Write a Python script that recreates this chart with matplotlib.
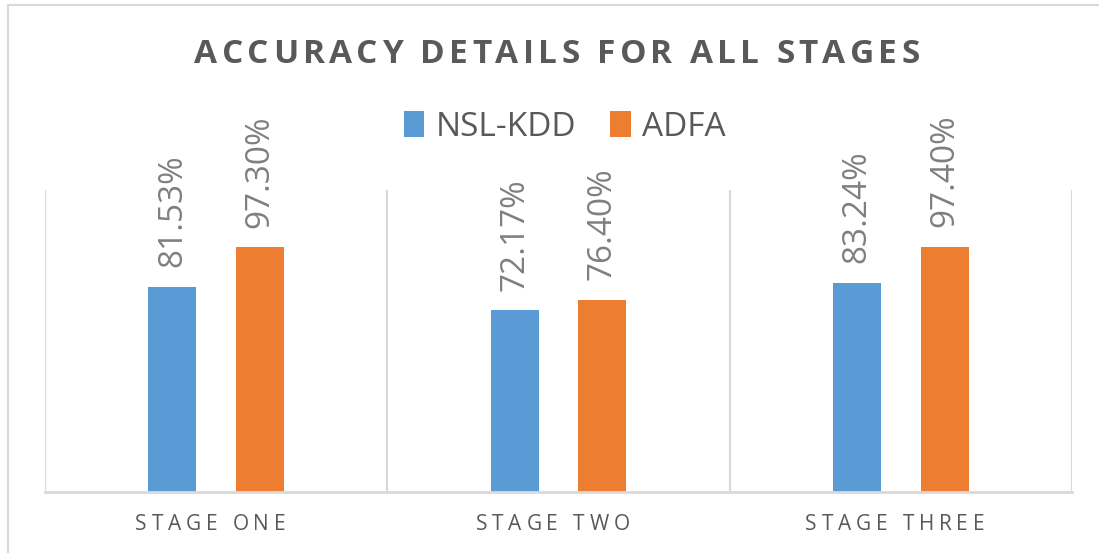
import matplotlib.pyplot as plt
from matplotlib.patches import Rectangle
from matplotlib.transforms import IdentityTransform
from numpy import arange

stages = ["STAGE ONE", "STAGE TWO", "STAGE THREE"]
nsl_kdd = [81.53, 72.17, 83.24]
adfa = [97.30, 76.40, 97.40]
series = {"NSL-KDD": (nsl_kdd, "#5B9BD5"), "ADFA": (adfa, "#ED7D31")}

plt.rcParams['font.family'] = ['Open Sans', 'DejaVu Sans']

fig = plt.figure(figsize=(10.99, 5.53), dpi=100)
ax = fig.add_axes([0.041, 0.1103, 0.9345, 0.546])
renderer = fig.canvas.get_renderer()


def text_width(s, **kw):
    t = fig.text(0, 0, s, transform=IdentityTransform(), **kw)
    w = t.get_window_extent(renderer).width
    t.remove()
    return w


# draw text one char at a time to get letter spacing (pixel coords)
def spaced_text(cx, y, s, gap=None, width=None, **kw):
    space = max(text_width("I I", **kw) - text_width("II", **kw), 0.3 * kw["fontsize"])
    ws = [space if c == " " else text_width(c, **kw) for c in s]
    if width is not None:
        gap = (width - sum(ws)) / (len(s) - 1)
    total = sum(ws) + gap * (len(s) - 1)
    xpos = cx - total / 2
    for c, w in zip(s, ws):
        if c != " ":
            fig.text(xpos, y, c, transform=IdentityTransform(), ha="left",
                     va="baseline", **kw)
        xpos += w + gap


x = arange(len(stages))
width = 0.14
offsets = [-0.128, 0.128]

handles = []
for (name, (vals, color)), off in zip(series.items(), offsets):
    b = ax.bar(x + off, vals, width, color=color, label=name, zorder=2)
    handles.append(b)
    for xi, v in zip(x + off, vals):
        ax.annotate(f"{v:.2f}%", (xi, v), xytext=(0, 14), textcoords="offset points",
                    rotation=90, ha="center", va="bottom", fontsize=24,
                    color="#7f7f7f")

# category separators
ax.vlines(arange(-0.5, len(stages)), 0, 120, color="#d9d9d9", lw=1.5, zorder=1)

ax.set_xlim(-0.5, len(stages) - 0.5)
ax.set_ylim(0, 120)
ax.set_yticks([])
ax.set_xticks([])
for s in ["top", "left", "right"]:
    ax.spines[s].set_visible(False)
ax.spines["bottom"].set_color("#d9d9d9")
ax.spines["bottom"].set_linewidth(2)

# category labels with letter spacing
for xi, name in zip(x, stages):
    px = ax.transData.transform((xi, 0))[0] - 6
    spaced_text(px, 23, name, gap=4.8, fontsize=15, color="#595959")

spaced_text(557, 490, "ACCURACY DETAILS FOR ALL STAGES", width=725,
            fontsize=24, fontweight="bold", color="#595959")

fig.legend(handles=handles, loc="center", bbox_to_anchor=(0.514, 0.77), ncols=2,
           frameon=False, fontsize=24, labelcolor="#595959", handlelength=0.62,
           handleheight=0.8, handletextpad=0.35, columnspacing=1.0)

# outer chart border
fig.add_artist(Rectangle((0.007, -0.1), 1.2, 1.091, transform=fig.transFigure,
                         fill=False, edgecolor="#d9d9d9", lw=1.5))

fig.savefig("out.png", dpi=100)
